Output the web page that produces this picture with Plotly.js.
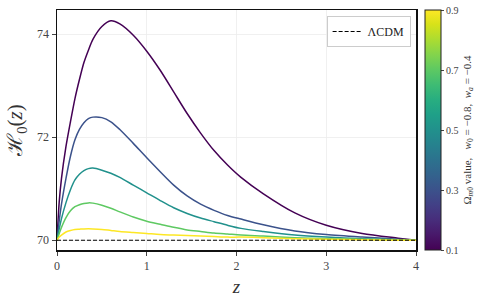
<!DOCTYPE html>
<html><head><meta charset="utf-8">
<script src="https://cdn.plot.ly/plotly-3.0.1.min.js"></script>
<style>html,body{margin:0;padding:0;background:#fff;}#chart{width:478px;height:302px;}</style>
</head><body><div id="chart"></div>
<script>
const z = [0,0.025,0.05,0.1,0.15,0.2,0.25,0.3,0.35,0.4,0.5,0.6,0.7,0.85,1.0,1.15,1.3,1.45,1.6,1.75,1.9,2.05,2.3,2.65,3.0,3.4,3.8,4.0];
const omegaValues = [0.1,0.3,0.5,0.7,0.9];
const H_om01 = [70,70.75,71.2,71.82,72.3,72.75,73.12,73.45,73.69,73.9,74.15,74.26,74.2,73.98,73.67,73.3,72.88,72.46,72.08,71.74,71.46,71.22,70.9,70.53,70.29,70.13,70.04,70.0];
const H_om03 = [70,70.38,70.7,71.2,71.63,71.95,72.15,72.28,72.36,72.39,72.38,72.3,72.15,71.88,71.6,71.33,71.07,70.86,70.7,70.58,70.48,70.41,70.3,70.18,70.11,70.06,70.02,70.0];
const H_om05 = [70,70.22,70.42,70.73,70.98,71.17,71.28,71.35,71.39,71.4,71.36,71.3,71.22,71.07,70.92,70.77,70.63,70.52,70.43,70.36,70.29,70.23,70.17,70.1,70.06,70.03,70.01,70.0];
const H_om07 = [70,70.13,70.25,70.44,70.57,70.65,70.69,70.715,70.725,70.72,70.68,70.62,70.55,70.45,70.37,70.31,70.25,70.2,70.17,70.14,70.12,70.1,70.08,70.05,70.03,70.02,70.01,70.0];
const H_om09 = [70,70.06,70.1,70.16,70.19,70.21,70.215,70.22,70.222,70.22,70.21,70.19,70.17,70.15,70.13,70.11,70.1,70.09,70.08,70.07,70.06,70.06,70.05,70.03,70.02,70.01,70.0,70.0];
const lcdmZ = [0,4];
const lcdmH = [70,70];
const series = [H_om01,H_om03,H_om05,H_om07,H_om09];
const colors = ['#440154','#3b528b','#21918c','#5ec962','#fde725'];

const font = "'Liberation Serif', 'DejaVu Serif', serif";
const traces = series.map((h,i)=>({
  x: z, y: h, type:'scatter', mode:'lines', showlegend:false,
  line:{color:colors[i], width:1.5, shape:'spline', smoothing:0.8}, hoverinfo:'skip'
}));
traces.push({x:lcdmZ, y:lcdmH, type:'scatter', mode:'lines', name:'ΛCDM',
  line:{color:'#000', width:1.1, dash:'4px,2px'}});
traces.push({x:[null], y:[null], type:'scatter', mode:'markers', showlegend:false,
  marker:{color:omegaValues, cmin:0.1, cmax:0.9, colorscale:'Viridis', showscale:true,
    colorbar:{x:1.025, xanchor:'left', y:0.5, yanchor:'middle', len:1, lenmode:'fraction',
      xpad:0, ypad:0, thickness:16, outlinewidth:1, outlinecolor:'#222',
      tickvals:[0.1,0.3,0.5,0.7,0.9], ticktext:['0.1','0.3','0.5','0.7','0.9'],
      ticks:'outside', ticklen:3, tickcolor:'#444', tickfont:{family:font,size:10,color:'#444'},
      title:{text:'Ω<sub><i>m</i>0</sub> value,   <i>w</i><sub>0</sub> = −0.8,  <i>w</i><sub><i>a</i></sub> = −0.4', side:'right', font:{family:font,size:11,color:'#333'}}
    }}});

const layout = {
  width:478, height:302, margin:{l:57, r:62, t:10, b:52, autoexpand:false},
  paper_bgcolor:'#fff', plot_bgcolor:'#fff', font:{family:font, color:'#444'},
  xaxis:{range:[0,4], tickvals:[0,1,2,3,4], showgrid:true, gridcolor:'#ececec', gridwidth:0.8,
    zeroline:false, showline:true, linecolor:'#111', linewidth:1.5, mirror:true,
    ticks:'outside', ticklen:4, tickcolor:'#444', tickfont:{family:font,size:12,color:'#444'},
    title:{text:'<i>z</i>', font:{family:font,size:19,color:'#333'}, standoff:8}},
  yaxis:{range:[69.81,74.47], tickvals:[70,72,74], showgrid:true, gridcolor:'#ececec', gridwidth:0.8,
    zeroline:false, showline:true, linecolor:'#111', linewidth:1.5, mirror:true,
    ticks:'outside', ticklen:4, tickcolor:'#444', tickfont:{family:font,size:12,color:'#444'},
    title:{text:'ℋ<sub>0</sub>(<i>z</i>)', font:{family:font,size:21,color:'#333'}, standoff:8}},
  legend:{x:0.985, xanchor:'right', y:0.975, yanchor:'top', bgcolor:'#fff', bordercolor:'#ccc', borderwidth:1,
    font:{family:font,size:12,color:'#222'}}
};
Plotly.newPlot('chart', traces, layout, {staticPlot:true, displayModeBar:false});
</script></body></html>
